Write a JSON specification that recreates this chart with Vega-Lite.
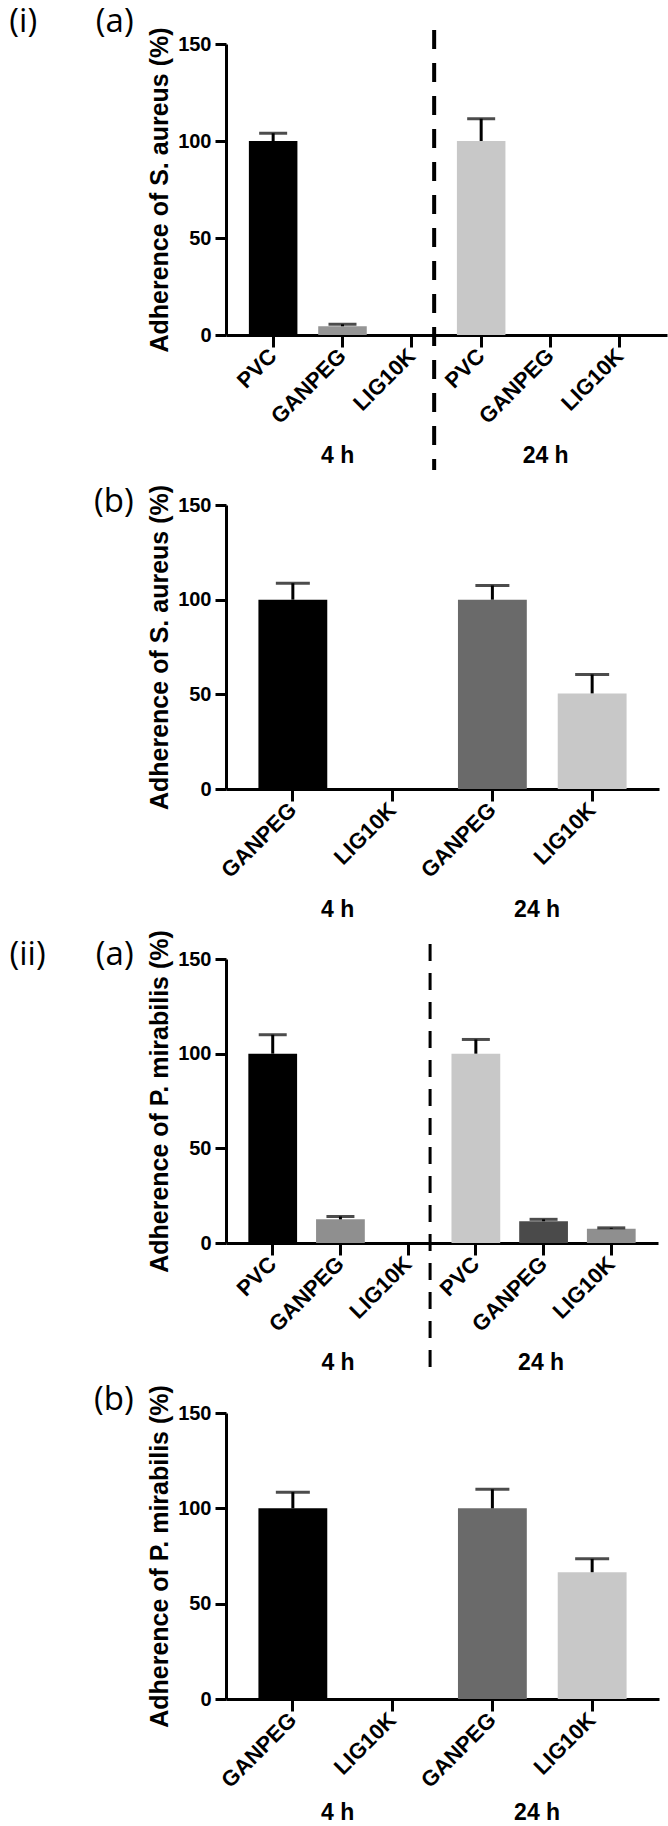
{
  "$schema": "https://vega.github.io/schema/vega-lite/v6.json",
  "background": "white",
  "autosize": {"type": "none"},
  "padding": {"left": 226, "top": 44, "right": 442, "bottom": 1782},
  "bounds": "flush",
  "spacing": 170,
  "config": {
    "view": {"stroke": null},
    "font": "Liberation Sans",
    "axis": {
      "grid": false, "domainColor": "#000000", "domainWidth": 3, "tickColor": "#000000", "tickWidth": 3,
      "labelColor": "#000000", "labelFont": "Liberation Sans", "labelFontWeight": "bold", "labelFontSize": 20,
      "titleColor": "#000000", "titleFont": "Liberation Sans", "titleFontWeight": "bold", "titleFontSize": 25
    },
    "axisY": {"tickSize": 11, "labelPadding": 4, "titlePadding": 5},
    "axisX": {"tickSize": 12, "labelPadding": 5, "labelFontSize": 22},
    "text": {"font": "Liberation Sans", "fontWeight": "bold", "fontSize": 23, "color": "#000000", "align": "center", "baseline": "middle"}
  },
  "resolve": {"scale": {"color": "independent", "x": "independent", "y": "independent"}},
  "datasets": {
    "ia": [
      {"time": "4 h", "key": "4 h|PVC", "value": 100, "upper": 104},
      {"time": "4 h", "key": "4 h|GANPEG", "value": 4.5, "upper": 5.5},
      {"time": "4 h", "key": "4 h|LIG10K", "value": 0, "upper": null},
      {"time": "24 h", "key": "24 h|PVC", "value": 100, "upper": 111.5},
      {"time": "24 h", "key": "24 h|GANPEG", "value": 0, "upper": null},
      {"time": "24 h", "key": "24 h|LIG10K", "value": 0, "upper": null}
    ],
    "ib": [
      {"time": "4 h", "key": "4 h|GANPEG", "value": 100, "upper": 108.7},
      {"time": "4 h", "key": "4 h|LIG10K", "value": 0, "upper": null},
      {"time": "24 h", "key": "24 h|GANPEG", "value": 100, "upper": 107.5},
      {"time": "24 h", "key": "24 h|LIG10K", "value": 50.5, "upper": 60.5}
    ],
    "iia": [
      {"time": "4 h", "key": "4 h|PVC", "value": 100, "upper": 110},
      {"time": "4 h", "key": "4 h|GANPEG", "value": 12.5, "upper": 14},
      {"time": "4 h", "key": "4 h|LIG10K", "value": 0, "upper": null},
      {"time": "24 h", "key": "24 h|PVC", "value": 100, "upper": 107.5},
      {"time": "24 h", "key": "24 h|GANPEG", "value": 11.5, "upper": 12.5},
      {"time": "24 h", "key": "24 h|LIG10K", "value": 7.5, "upper": 8}
    ],
    "iib": [
      {"time": "4 h", "key": "4 h|GANPEG", "value": 100, "upper": 108.5},
      {"time": "4 h", "key": "4 h|LIG10K", "value": 0, "upper": null},
      {"time": "24 h", "key": "24 h|GANPEG", "value": 100, "upper": 110},
      {"time": "24 h", "key": "24 h|LIG10K", "value": 66.5, "upper": 73.5}
    ],
    "groups": [
      {"time": "4 h", "under": "4 h|GANPEG"},
      {"time": "24 h", "under": "24 h|GANPEG"}
    ],
    "divider": [
      {"after": "4 h|LIG10K"}
    ]
  },
  "vconcat": [
    {
      "data": {"name": "ia"},
      "width": 441, "height": 291,
      "title": {"text": "(i)\u2003\u00a0\u00a0\u00a0(a)", "orient": "left", "angle": 0, "anchor": "end", "align": "left", "baseline": "top", "font": "Open Sans", "fontSize": 33, "fontWeight": "normal", "color": "#000000", "offset": 14, "dy": -21},
      "layer": [
        {
          "mark": {"type": "bar"},
          "encoding": {
            "x": {"field": "key", "type": "nominal", "scale": {"domain": ["4 h|PVC", "4 h|GANPEG", "4 h|LIG10K", "24 h|PVC", "24 h|GANPEG", "24 h|LIG10K"], "paddingInner": 0.3, "paddingOuter": 0.33},
              "axis": {"orient": "bottom", "title": null, "labelExpr": "split(datum.value, '|')[1]", "labelAngle": -45, "labelAlign": "right", "labelBaseline": "middle"}},
            "y": {"field": "value", "type": "quantitative", "scale": {"domain": [0, 150], "nice": false}, "axis": {"values": [0, 50, 100, 150], "title": "Adherence of S. aureus (%)"}},
            "color": {"field": "key", "type": "nominal", "scale": {"domain": ["4 h|PVC", "4 h|GANPEG", "4 h|LIG10K", "24 h|PVC", "24 h|GANPEG", "24 h|LIG10K"], "range": ["#000000", "#959595", "#959595", "#c8c8c8", "#6a6a6a", "#959595"]}, "legend": null}
          }
        },
        {
          "transform": [{"filter": "isValid(datum.upper)"}],
          "mark": {"type": "rule", "color": "#000000", "strokeWidth": 3},
          "encoding": {"x": {"field": "key", "type": "nominal"}, "y": {"field": "value", "type": "quantitative"}, "y2": {"field": "upper"}}
        },
        {
          "transform": [{"filter": "isValid(datum.upper)"}],
          "mark": {"type": "tick", "color": "#000000", "thickness": 3, "size": 28},
          "encoding": {"x": {"field": "key", "type": "nominal"}, "y": {"field": "upper", "type": "quantitative"}}
        },
        {
          "data": {"name": "divider"},
          "mark": {"type": "rule", "color": "#000000", "strokeWidth": 4, "strokeDash": [19, 14]},
          "encoding": {"x": {"field": "after", "type": "nominal", "bandPosition": 0.96}, "y": {"datum": 157.2}, "y2": {"datum": -69.6}}
        },
        {
          "data": {"name": "groups"},
          "mark": {"type": "text"},
          "encoding": {"x": {"field": "under", "type": "nominal", "bandPosition": 0.4}, "y": {"datum": -62.4}, "text": {"field": "time"}}
        }
      ]
    },
    {
      "data": {"name": "ib"},
      "width": 433, "height": 284,
      "title": {"text": "(b)", "orient": "left", "angle": 0, "anchor": "end", "align": "left", "baseline": "top", "font": "Open Sans", "fontSize": 33, "fontWeight": "normal", "color": "#000000", "offset": 14, "dy": 2},
      "layer": [
        {
          "mark": {"type": "bar"},
          "encoding": {
            "x": {"field": "key", "type": "nominal", "scale": {"domain": ["4 h|GANPEG", "4 h|LIG10K", "24 h|GANPEG", "24 h|LIG10K"], "paddingInner": 0.31, "paddingOuter": 0.325},
              "axis": {"orient": "bottom", "title": null, "labelExpr": "split(datum.value, '|')[1]", "labelAngle": -45, "labelAlign": "right", "labelBaseline": "middle"}},
            "y": {"field": "value", "type": "quantitative", "scale": {"domain": [0, 150], "nice": false}, "axis": {"values": [0, 50, 100, 150], "title": "Adherence of S. aureus (%)"}},
            "color": {"field": "key", "type": "nominal", "scale": {"domain": ["4 h|GANPEG", "4 h|LIG10K", "24 h|GANPEG", "24 h|LIG10K"], "range": ["#000000", "#959595", "#6a6a6a", "#c8c8c8"]}, "legend": null}
          }
        },
        {
          "transform": [{"filter": "isValid(datum.upper)"}],
          "mark": {"type": "rule", "color": "#000000", "strokeWidth": 3},
          "encoding": {"x": {"field": "key", "type": "nominal"}, "y": {"field": "value", "type": "quantitative"}, "y2": {"field": "upper"}}
        },
        {
          "transform": [{"filter": "isValid(datum.upper)"}],
          "mark": {"type": "tick", "color": "#000000", "thickness": 3, "size": 34},
          "encoding": {"x": {"field": "key", "type": "nominal"}, "y": {"field": "upper", "type": "quantitative"}}
        },
        {
          "data": {"name": "groups"},
          "mark": {"type": "text"},
          "encoding": {"x": {"field": "under", "type": "nominal", "bandPosition": 1.15}, "y": {"datum": -63.9}, "text": {"field": "time"}}
        }
      ]
    },
    {
      "data": {"name": "iia"},
      "width": 432, "height": 284,
      "title": {"text": "(ii)\u2003\u00a0\u00a0(a)", "orient": "left", "angle": 0, "anchor": "end", "align": "left", "baseline": "top", "font": "Open Sans", "fontSize": 33, "fontWeight": "normal", "color": "#000000", "offset": 14, "dy": 9},
      "layer": [
        {
          "mark": {"type": "bar"},
          "encoding": {
            "x": {"field": "key", "type": "nominal", "scale": {"domain": ["4 h|PVC", "4 h|GANPEG", "4 h|LIG10K", "24 h|PVC", "24 h|GANPEG", "24 h|LIG10K"], "paddingInner": 0.28, "paddingOuter": 0.33},
              "axis": {"orient": "bottom", "title": null, "labelExpr": "split(datum.value, '|')[1]", "labelAngle": -45, "labelAlign": "right", "labelBaseline": "middle"}},
            "y": {"field": "value", "type": "quantitative", "scale": {"domain": [0, 150], "nice": false}, "axis": {"values": [0, 50, 100, 150], "title": "Adherence of P. mirabilis (%)"}},
            "color": {"field": "key", "type": "nominal", "scale": {"domain": ["4 h|PVC", "4 h|GANPEG", "4 h|LIG10K", "24 h|PVC", "24 h|GANPEG", "24 h|LIG10K"], "range": ["#000000", "#8f8f8f", "#8f8f8f", "#c8c8c8", "#4a4a4a", "#8f8f8f"]}, "legend": null}
          }
        },
        {
          "transform": [{"filter": "isValid(datum.upper)"}],
          "mark": {"type": "rule", "color": "#000000", "strokeWidth": 3},
          "encoding": {"x": {"field": "key", "type": "nominal"}, "y": {"field": "value", "type": "quantitative"}, "y2": {"field": "upper"}}
        },
        {
          "transform": [{"filter": "isValid(datum.upper)"}],
          "mark": {"type": "tick", "color": "#000000", "thickness": 3, "size": 28},
          "encoding": {"x": {"field": "key", "type": "nominal"}, "y": {"field": "upper", "type": "quantitative"}}
        },
        {
          "data": {"name": "divider"},
          "mark": {"type": "rule", "color": "#000000", "strokeWidth": 3, "strokeDash": [17, 12]},
          "encoding": {"x": {"field": "after", "type": "nominal", "bandPosition": 0.95}, "y": {"datum": 157.9}, "y2": {"datum": -68.7}}
        },
        {
          "data": {"name": "groups"},
          "mark": {"type": "text"},
          "encoding": {"x": {"field": "under", "type": "nominal", "bandPosition": 0.45}, "y": {"datum": -63.4}, "text": {"field": "time"}}
        }
      ]
    },
    {
      "data": {"name": "iib"},
      "width": 433, "height": 286,
      "title": {"text": "(b)", "orient": "left", "angle": 0, "anchor": "end", "align": "left", "baseline": "top", "font": "Open Sans", "fontSize": 33, "fontWeight": "normal", "color": "#000000", "offset": 14, "dy": -1},
      "layer": [
        {
          "mark": {"type": "bar"},
          "encoding": {
            "x": {"field": "key", "type": "nominal", "scale": {"domain": ["4 h|GANPEG", "4 h|LIG10K", "24 h|GANPEG", "24 h|LIG10K"], "paddingInner": 0.31, "paddingOuter": 0.325},
              "axis": {"orient": "bottom", "title": null, "labelExpr": "split(datum.value, '|')[1]", "labelAngle": -45, "labelAlign": "right", "labelBaseline": "middle"}},
            "y": {"field": "value", "type": "quantitative", "scale": {"domain": [0, 150], "nice": false}, "axis": {"values": [0, 50, 100, 150], "title": "Adherence of P. mirabilis (%)"}},
            "color": {"field": "key", "type": "nominal", "scale": {"domain": ["4 h|GANPEG", "4 h|LIG10K", "24 h|GANPEG", "24 h|LIG10K"], "range": ["#000000", "#959595", "#6a6a6a", "#c8c8c8"]}, "legend": null}
          }
        },
        {
          "transform": [{"filter": "isValid(datum.upper)"}],
          "mark": {"type": "rule", "color": "#000000", "strokeWidth": 3},
          "encoding": {"x": {"field": "key", "type": "nominal"}, "y": {"field": "value", "type": "quantitative"}, "y2": {"field": "upper"}}
        },
        {
          "transform": [{"filter": "isValid(datum.upper)"}],
          "mark": {"type": "tick", "color": "#000000", "thickness": 3, "size": 34},
          "encoding": {"x": {"field": "key", "type": "nominal"}, "y": {"field": "upper", "type": "quantitative"}}
        },
        {
          "data": {"name": "groups"},
          "mark": {"type": "text"},
          "encoding": {"x": {"field": "under", "type": "nominal", "bandPosition": 1.15}, "y": {"datum": -60}, "text": {"field": "time"}}
        }
      ]
    }
  ]
}
